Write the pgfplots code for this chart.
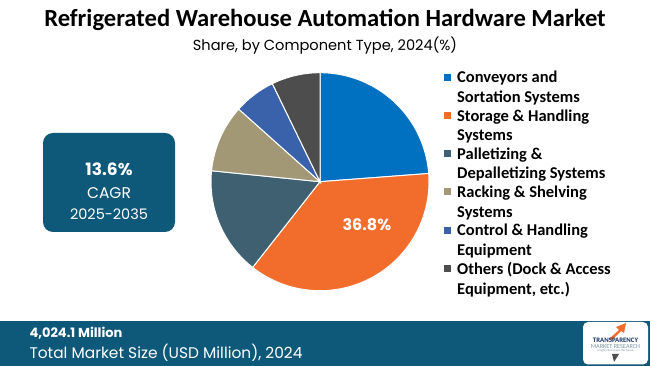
\documentclass[border=0pt]{standalone}
\usepackage{pgfplots}
\pgfplotsset{compat=1.18}
\usepackage{pgfplotstable}
\usepackage{fontspec}
\setmainfont{Carlito}
\newfontfamily\gothic{Poppins}
\definecolor{c1}{RGB}{0,112,192}
\definecolor{c2}{RGB}{242,108,44}
\definecolor{c3}{RGB}{62,96,112}
\definecolor{c4}{RGB}{163,152,118}
\definecolor{c5}{RGB}{58,98,170}
\definecolor{c6}{RGB}{77,77,77}
\definecolor{teal}{RGB}{14,88,122}
\definecolor{navy}{RGB}{20,50,100}
\definecolor{logogray}{RGB}{120,150,160}
\def\curA{90}
\newcommand\slice[2]{%
  \pgfmathsetmacro\endA{\curA-3.6*#1}%
  \edef\tmp{\noexpand\addplot[fill=#2, draw=white, line width=1pt, domain=\curA:\endA, samples=80, variable=\noexpand\t] ({cos(\noexpand\t)},{sin(\noexpand\t)}) -- (axis cs:0,0) -- cycle;}%
  \tmp
  \global\let\curA\endA
}
\begin{document}
\begin{tikzpicture}[x=1pt,y=1pt]
\path[fill=white] (0,0) rectangle (650,366);
% title
\node[font=\fontsize{24.6}{28}\selectfont\bfseries] at (325,346) {Refrigerated Warehouse Automation Hardware Market};
\node[font=\gothic\fontsize{14.6}{17}\selectfont] at (325,320) {Share, by Component Type, 2024(\%)};
% CAGR box
\fill[teal, rounded corners=10pt] (43,134) rectangle (175,233);
\node[white, font=\gothic\bfseries\fontsize{17}{20}\selectfont] at (109,197) {13.6\%};
\node[white, font=\gothic\fontsize{15.5}{18}\selectfont] at (109,173) {CAGR};
\node[white, font=\gothic\fontsize{14.5}{18}\selectfont] at (109,152) {2025-2035};
% bottom banner
\fill[teal] (0,0) rectangle (650,45);
\node[anchor=base west, white, font=\gothic\bfseries\fontsize{13}{15}\selectfont] at (26,28) {4,024.1 Million};
\node[anchor=base west, white, font=\gothic\fontsize{15.4}{18}\selectfont] at (26,7) {Total Market Size (USD Million), 2024};
% logo
\fill[white, rounded corners=5pt] (583,1.5) rectangle (648,44);
\fill[c2] (609,27) -- (619,36) -- (616,39) -- (626,43) -- (624,33) -- (621,35) -- (612,26) -- cycle;
\node[navy, font=\bfseries\fontsize{6.8}{7}\selectfont] at (615.5,26) {TRANSPARENCY};
\node[logogray, font=\fontsize{6.2}{7}\selectfont] at (615.5,19.5) {MARKET RESEARCH};
\node[logogray, font=\fontsize{3}{4}\selectfont] at (615.5,15) {Insights that shape the future};
\fill[c6] (612,12) -- (619,12) -- (614,4) -- cycle;
\begin{axis}[
  at={(320pt,184.3pt)}, anchor=origin,
  width=218pt, height=218pt, scale only axis,
  xmin=-1, xmax=1, ymin=-1, ymax=1,
  hide axis, clip=false,
  legend style={at={(1.055,1.017)}, anchor=north west, draw=none, fill=none,
    font=\fontsize{16.5}{19.6}\selectfont\bfseries,
    nodes={align=left, inner sep=0pt}, row sep=5.6pt,
    /tikz/every odd column/.append style={column sep=6pt}},
  legend cell align=left,
  legend image code/.code={\fill[#1, draw=none] (0pt,7pt) rectangle (7pt,14pt);},
]
\slice{23.8}{c1}
\addlegendentry{Conveyors and\\Sortation Systems}
\slice{36.8}{c2}
\addlegendentry{Storage \& Handling\\Systems}
\slice{16.0}{c3}
\addlegendentry{Palletizing \&\\Depalletizing Systems}
\slice{10.0}{c4}
\addlegendentry{Racking \& Shelving\\Systems}
\slice{6.2}{c5}
\addlegendentry{Control \& Handling\\Equipment}
\slice{7.2}{c6}
\addlegendentry{Others (Dock \& Access\\Equipment, etc.)}
\node[white, font=\gothic\bfseries\fontsize{16}{19}\selectfont] at (axis cs:0.43,-0.39) {36.8\%};
\end{axis}
\end{tikzpicture}
\end{document}
